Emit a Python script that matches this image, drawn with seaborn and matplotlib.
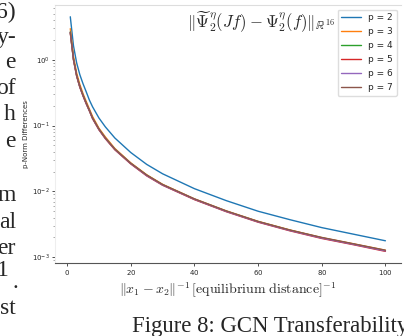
import seaborn as sns
import pandas as pd
import matplotlib.pyplot as plt

# inverse equilibrium distance
x_vals = [1, 2, 3, 4, 5, 6, 7, 8, 10, 12, 15, 20, 25, 30, 40, 50, 60, 70, 80, 90, 100]

# p-norm differences
p2 = [4.47, 1.62, 0.89, 0.59, 0.43, 0.325, 0.243, 0.192, 0.130, 0.0955, 0.0646, 0.0389,
      0.0257, 0.0185, 0.0110, 0.00724, 0.0050, 0.00372, 0.00282, 0.00224, 0.00178]
p3 = [2.95, 1.12, 0.625, 0.42, 0.305, 0.232, 0.178, 0.137, 0.091, 0.0672, 0.0448, 0.0271,
      0.0179, 0.0128, 0.0077, 0.00506, 0.00351, 0.0026, 0.00199, 0.0016, 0.00128]
p4 = [2.63, 1.02, 0.575, 0.390, 0.288, 0.219, 0.170, 0.130, 0.088, 0.0646, 0.0437, 0.0266,
      0.0176, 0.0126, 0.0076, 0.0050, 0.00347, 0.00257, 0.00197, 0.00158, 0.00126]
p5 = [2.55, 0.99, 0.56, 0.380, 0.281, 0.213, 0.166, 0.127, 0.086, 0.0632, 0.0428, 0.0261,
      0.0172, 0.0124, 0.0075, 0.00492, 0.00341, 0.00252, 0.00193, 0.00155, 0.00123]
p6 = [2.58, 1.0, 0.565, 0.384, 0.284, 0.216, 0.168, 0.128, 0.087, 0.0639, 0.0433, 0.0264,
      0.0174, 0.0125, 0.0076, 0.00497, 0.00345, 0.00255, 0.00196, 0.00157, 0.00125]
p7 = [2.6, 1.01, 0.57, 0.387, 0.286, 0.218, 0.169, 0.129, 0.088, 0.0645, 0.0437, 0.0267,
      0.0177, 0.0127, 0.0077, 0.00505, 0.0035, 0.00259, 0.002, 0.0016, 0.00128]

series = {'p = 2': p2, 'p = 3': p3, 'p = 4': p4, 'p = 5': p5, 'p = 6': p6, 'p = 7': p7}

rows = []
for name, vals in series.items():
    for x, v in zip(x_vals, vals):
        rows.append({'x': x, 'diff': v, 'p': name})
df = pd.DataFrame(rows)

sns.set_style('white')
plt.rcParams['mathtext.fontset'] = 'cm'
plt.rcParams['axes.formatter.use_mathtext'] = True

fig = plt.figure(figsize=(4.04, 3.36), dpi=100)
ax = fig.add_axes([0.135, 0.217, 0.858, 0.768])

sns.lineplot(data=df, x='x', y='diff', hue='p', palette='tab10', linewidth=1.0, ax=ax)
ax.set_yscale('log')

ax.spines['top'].set_color('#dddddd')
ax.spines['left'].set_color('#eeeeee')
ax.spines['right'].set_visible(False)
ax.spines['bottom'].set_color('#555555')
ax.tick_params(axis='both', which='major', labelsize=5, length=2, width=0.6, color='#333333',
               bottom=True, left=True, pad=1.5)
ax.tick_params(axis='y', which='minor', length=1.2, width=0.5, color='#888888', left=True)
ax.set_xticks([0, 20, 40, 60, 80, 100])

ax.set_ylabel('p-Norm Differences', fontsize=5, labelpad=2)
ax.set_xlabel(r'$\|x_1 - x_2\|^{-1}\,[\mathrm{equilibrium\ distance}]^{-1}$', fontsize=10, labelpad=3)

ax.text(0.81, 0.935, r'$\|\widetilde{\Psi}_2^{\eta}(Jf) - \Psi_2^{\eta}(f)\|_{\mathbb{R}^{16}}$',
        transform=ax.transAxes, ha='right', va='center', fontsize=12)

ax.legend(loc='upper right', fontsize=6.5, handlelength=2.2, labelspacing=0.55,
          borderpad=0.4, framealpha=1, edgecolor='#dddddd')

# fragments of the surrounding paper page
frag = ['6)', 'y-', 'e', 'of', 'h', 'e', 'm', 'al', 'er', '1', '.', 'st']
frag_y = [12, 37, 63, 89, 115, 141, 195, 222, 248, 271, 288, 309]
frag_x = [16, 16, 16, 16, 16, 16, 16, 16, 16, 9, 18, 16]
frag_va = ['center'] * 10 + ['baseline', 'center']
for t, xp, yp, va in zip(frag, frag_x, frag_y, frag_va):
    fig.text(xp / 404, 1 - yp / 336, t, ha='right', va=va, fontsize=17,
             family='Liberation Serif')
fig.text(132 / 404, 1 - 316 / 336, 'Figure 8: GCN Transferability', ha='left', va='top',
         fontsize=16.4, family='Liberation Serif')

plt.savefig('out.png', dpi=100)
